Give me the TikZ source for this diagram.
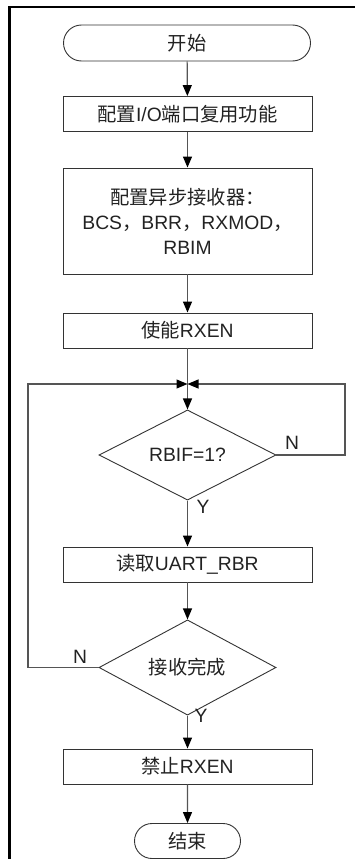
\documentclass[tikz,border=0pt]{standalone}
\usepackage{fontspec}
\setmainfont{Liberation Sans}
\newfontfamily\cjk{Noto Sans CJK SC}
\usetikzlibrary{shapes.misc,shapes.geometric,arrows.meta}
\newcommand{\zh}[1]{{\cjk #1}}
\definecolor{linegray}{HTML}{555555}
\definecolor{txt}{HTML}{222222}
\begin{document}
\begin{tikzpicture}[x=1pt,y=-1pt,
  every node/.style={text=txt,font=\fontsize{19.3}{25}\selectfont},
  proc/.style={draw=black!80,line width=0.9pt,rectangle,minimum width=249pt,minimum height=35pt,inner sep=0pt},
  term/.style={draw=black!80,line width=0.9pt,rounded rectangle,minimum height=36pt,inner sep=0pt},
  dec/.style={draw=black!80,line width=0.9pt,diamond,inner sep=0pt,minimum width=177pt,minimum height=70pt},
  conn/.style={draw=linegray,line width=1.2pt},
  arr/.style={conn,-{Triangle[length=11pt,width=9pt,fill=black,color=black]}},
  lbl/.style={inner sep=0pt}
]
\useasboundingbox (0,0) rectangle (354,859);
% frame
\draw[line width=2.5pt,line cap=rect] (9.7,859) -- (9.7,7) -- (354,7);

\node[term,minimum width=247pt] (start) at (187,43) {\zh{开始}};
\node[proc] (b1) at (187.5,114) {\zh{配置}I/O\zh{端口复用功能}};
\node[proc,minimum height=106pt,align=center] (b2) at (187.5,221) {\zh{配置异步接收器：}\\BCS\zh{，}BRR\zh{，}RXMOD\zh{，}\\RBIM};
\node[proc] (b3) at (187.5,330.5) {\zh{使能}RXEN};
\coordinate (j) at (187.5,384);
\node[dec] (d1) at (187.5,455) {RBIF=1?};
\node[proc] (b4) at (187.5,564.5) {\zh{读取}UART\_RBR};
\node[dec] (d2) at (187.5,667.5) {\zh{接收完成}};
\node[proc] (b5) at (187.5,766.5) {\zh{禁止}RXEN};
\node[term,minimum width=106pt,minimum height=35pt] (end) at (187.5,841) {\zh{结束}};

\coordinate (r1) at (345,455);
\coordinate (r2) at (345,384);
\coordinate (l1) at (28,667.5);
\coordinate (l2) at (28,384);

\draw[arr] (start) -- (b1);
\draw[arr] (b1) -- (b2);
\draw[arr] (b2) -- (b3);
\draw[arr] (b3) -- (d1);
\draw[arr] (d1.east) -- (r1) -- (r2) -- (j);
\draw[arr] (d2.west) -- (l1) -- (l2) -- (j);
\draw[arr] (d1) -- (b4);
\draw[arr] (b4) -- (d2);
\draw[arr] (d2) -- (b5);
\draw[arr] (b5) -- (end);

\node[lbl] (n1) at (292,443) {N};
\node[lbl] (y1) at (203,507) {Y};
\node[lbl] (n2) at (80,657) {N};
\node[lbl] (y2) at (201,716) {Y};
\end{tikzpicture}
\end{document}
